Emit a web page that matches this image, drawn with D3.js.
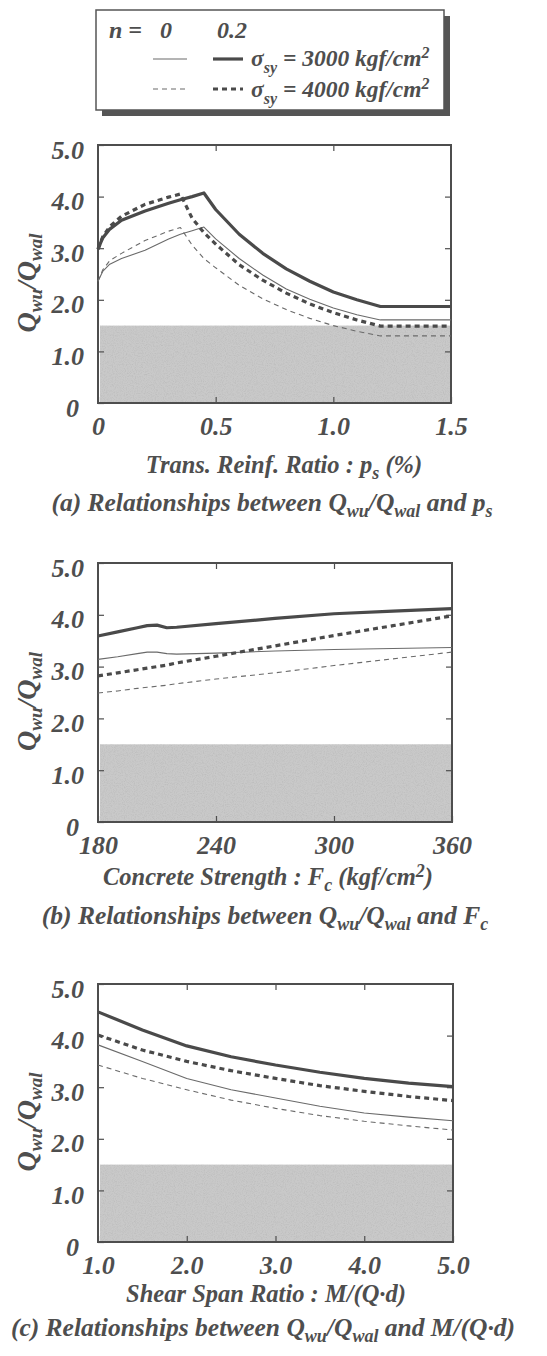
<!DOCTYPE html>
<html>
<head>
<meta charset="utf-8">
<script src="https://d3js.org/d3.v7.min.js"></script>
<style>
  body { margin: 0; background: #fff; }
  text { font-family: "Liberation Serif", "Times New Roman", serif; font-weight: bold; font-style: italic; fill: #4e4e4e; }
</style>
</head>
<body>
<svg width="547" height="1356">
  <defs>
    <filter id="grain" x="0" y="0" width="1" height="1">
      <feTurbulence type="fractalNoise" baseFrequency="0.9" numOctaves="2" seed="4" result="noise"/>
      <feColorMatrix in="noise" type="matrix" values="0 0 0 0 0.4  0 0 0 0 0.4  0 0 0 0 0.4  0.9 0 0 0 -0.38" result="dots"/>
      <feComposite in="dots" in2="SourceGraphic" operator="in" result="clipped"/>
      <feMerge><feMergeNode in="SourceGraphic"/><feMergeNode in="clipped"/></feMerge>
    </filter>
  </defs>
</svg>
<script>

// ---- data ----
// legend: n = 0 (thin), n = 0.2 (thick); solid = 3000, dashed = 4000 kgf/cm2
var nValues = ["0", "0.2"];
var sigmaLabels = ["3000", "4000"];
var safeLimit = 1.5;   // shaded zone Qwu/Qwal < 1.5

// (a) transverse reinforcement ratio ps (%)
var psX = [0, 0.02, 0.05, 0.1, 0.2, 0.3, 0.35, 0.4, 0.45, 0.5, 0.6, 0.7, 0.8, 0.9, 1.0, 1.1, 1.2, 1.5];
var psN02S3000 = [2.98, 3.2, 3.37, 3.54, 3.72, 3.87, 3.94, 4.0, 4.07, 3.75, 3.27, 2.9, 2.6, 2.36, 2.15, 2.0, 1.87, 1.87];
var psN02S4000 = [2.98, 3.22, 3.42, 3.62, 3.85, 3.99, 4.05, 3.58, 3.3, 3.08, 2.68, 2.38, 2.13, 1.92, 1.75, 1.61, 1.49, 1.49];
var psN0S3000  = [2.36, 2.55, 2.69, 2.8, 2.96, 3.18, 3.27, 3.34, 3.41, 3.18, 2.8, 2.48, 2.21, 2.01, 1.84, 1.71, 1.61, 1.61];
var psN0S4000  = [2.36, 2.58, 2.76, 2.9, 3.15, 3.33, 3.4, 3.06, 2.8, 2.62, 2.28, 2.02, 1.81, 1.64, 1.5, 1.39, 1.3, 1.3];
var psTicks = [0, 0.5, 1.0, 1.5];
var psTickLabels = ["0", "0.5", "1.0", "1.5"];

// (b) concrete strength Fc (kgf/cm2)
var fcX = [180, 190, 200, 205, 210, 215, 220, 240, 270, 300, 330, 360];
var fcN02S3000 = [3.59, 3.67, 3.75, 3.79, 3.8, 3.75, 3.76, 3.83, 3.93, 4.02, 4.07, 4.12];
var fcN02S4000 = [2.82, 2.88, 2.94, 2.97, 3.0, 3.03, 3.07, 3.2, 3.4, 3.6, 3.79, 3.98];
var fcN0S3000  = [3.14, 3.19, 3.25, 3.28, 3.28, 3.25, 3.24, 3.26, 3.3, 3.33, 3.35, 3.37];
var fcN0S4000  = [2.49, 2.53, 2.58, 2.6, 2.62, 2.64, 2.67, 2.76, 2.88, 3.02, 3.15, 3.28];
var fcTicks = [180, 240, 300, 360];
var fcTickLabels = ["180", "240", "300", "360"];

// (c) shear span ratio M/(Q·d)
var mqdX = [1.0, 1.5, 2.0, 2.5, 3.0, 3.5, 4.0, 4.5, 5.0];
var mqdN02S3000 = [4.46, 4.11, 3.8, 3.59, 3.43, 3.29, 3.17, 3.08, 3.01];
var mqdN02S4000 = [4.01, 3.72, 3.5, 3.32, 3.17, 3.03, 2.92, 2.82, 2.74];
var mqdN0S3000  = [3.82, 3.5, 3.17, 2.95, 2.79, 2.63, 2.5, 2.42, 2.35];
var mqdN0S4000  = [3.43, 3.17, 2.95, 2.75, 2.59, 2.45, 2.34, 2.25, 2.17];
var mqdTicks = [1, 2, 3, 4, 5];
var mqdTickLabels = ["1.0", "2.0", "3.0", "4.0", "5.0"];

var yTicks = [0, 1, 2, 3, 4, 5];
var yTickLabels = ["0", "1.0", "2.0", "3.0", "4.0", "5.0"];

// ---- styles ----
var ink = "#4e4e4e";
var styles = {
    thickSolid:  {width: 3.2, dash: null,  color: "#4a4a4a"},
    thickDashed: {width: 3.2, dash: "5,4", color: "#4a4a4a"},
    thinSolid:   {width: 1.1, dash: null,  color: "#6a6a6a"},
    thinDashed:  {width: 1.1, dash: "5,4", color: "#6a6a6a"}
};

var svg = d3.select("svg");

// ---- legend ----
var lg = svg.append("g");
lg.append("rect").attr("x", 102).attr("y", 16).attr("width", 348).attr("height", 100).attr("fill", "#555");
lg.append("rect").attr("x", 96).attr("y", 10).attr("width", 348).attr("height", 100)
    .attr("fill", "#fff").attr("stroke", "#555").attr("stroke-width", 1.5);
lg.append("text").attr("x", 109).attr("y", 38).style("font-size", "24px").text("n =");
lg.append("text").attr("x", 166).attr("y", 38).attr("text-anchor", "middle").style("font-size", "24px").text(nValues[0]);
lg.append("text").attr("x", 232).attr("y", 38).attr("text-anchor", "middle").style("font-size", "24px").text(nValues[1]);

function legendLine(x1, x2, y, st) {
    lg.append("line").attr("x1", x1).attr("x2", x2).attr("y1", y).attr("y2", y)
        .attr("stroke", st.color).attr("stroke-width", st.width)
        .attr("stroke-dasharray", st.dash);
}
legendLine(153, 187, 59, styles.thinSolid);
legendLine(213, 243, 59, styles.thickSolid);
legendLine(153, 187, 89, styles.thinDashed);
legendLine(213, 243, 89, styles.thickDashed);

function sigmaText(y, value) {
    var t = lg.append("text").attr("x", 251).attr("y", y).style("font-size", "23.5px");
    t.append("tspan").text("σ");
    t.append("tspan").attr("dy", 7).style("font-size", "16px").text("sy");
    t.append("tspan").attr("dy", -7).text(" = " + value + " kgf/cm");
    t.append("tspan").attr("dy", -8).style("font-size", "16px").text("2");
}
sigmaText(66, sigmaLabels[0]);
sigmaText(97, sigmaLabels[1]);

// ---- panels ----
function yTitle(g, cx, cy) {
    var t = g.append("text").attr("transform", "translate(" + cx + "," + cy + ") rotate(-90)")
        .attr("text-anchor", "middle").style("font-size", "28px");
    t.append("tspan").text("Q");
    t.append("tspan").attr("dy", 6).style("font-size", "19px").text("wu");
    t.append("tspan").attr("dy", -6).text("/Q");
    t.append("tspan").attr("dy", 6).style("font-size", "19px").text("wal");
}

// parts: array of [text, "sub"|"sup"|null]
function richText(g, x, y, size, parts) {
    var t = g.append("text").attr("x", x).attr("y", y).attr("text-anchor", "middle").style("font-size", size + "px");
    var shift = 0;
    parts.forEach(function(p) {
        var target = p[1] === "sub" ? 6 : p[1] === "sup" ? -8 : 0;
        var s = t.append("tspan").attr("dy", target - shift).text(p[0]);
        if (p[1]) s.style("font-size", Math.round(size * 0.72) + "px");
        shift = target;
    });
    return t;
}

function drawPanel(p) {
    var g = svg.append("g");
    var x = d3.scaleLinear().domain(p.xDomain).range([p.left, p.right]);
    var y = d3.scaleLinear().domain([0, 5]).range([p.bottom, p.top]);

    // shaded unsafe zone
    g.append("rect")
        .attr("x", x(p.xDomain[0]) + 2).attr("width", x(p.xDomain[1]) - x(p.xDomain[0]) - 3)
        .attr("y", y(safeLimit)).attr("height", y(0) - y(safeLimit))
        .attr("fill", "#c9c9c9").attr("filter", "url(#grain)");

    // inward ticks on all four sides
    var inner = p.xTicks.slice(1, -1);
    g.append("g").attr("transform", "translate(0," + p.bottom + ")")
        .call(d3.axisBottom(x).tickValues(p.xTicks).tickSizeInner(-6).tickSizeOuter(0).tickPadding(14)
            .tickFormat(function(d, i) { return p.xTickLabels[i]; }))
        .call(function(a) {
            a.select(".domain").remove();
            a.selectAll("line").attr("stroke", ink).attr("stroke-width", 1.2);
            a.selectAll("text").attr("fill", ink).style("font-size", "26px").style("font-family", null);
        });
    g.append("g").attr("transform", "translate(0," + p.top + ")")
        .call(d3.axisTop(x).tickValues(inner).tickSizeInner(-6).tickSizeOuter(0).tickFormat(""))
        .call(function(a) { a.select(".domain").remove(); a.selectAll("line").attr("stroke", ink).attr("stroke-width", 1.2); });
    g.append("g").attr("transform", "translate(" + p.left + ",0)")
        .call(d3.axisLeft(y).tickValues(yTicks).tickSizeInner(-6).tickSizeOuter(0).tickPadding(14)
            .tickFormat(function(d, i) { return yTickLabels[i]; }))
        .call(function(a) {
            a.select(".domain").remove();
            a.selectAll("line").attr("stroke", ink).attr("stroke-width", 1.2);
            a.selectAll("text").attr("fill", ink).attr("dy", "0.5em").style("font-size", "26px").style("font-family", null);
            // the "0" sits a little left so it clears the first x label
            a.selectAll(".tick").filter(function(d) { return d === 0; }).select("text").attr("x", -19);
        });
    g.append("g").attr("transform", "translate(" + p.right + ",0)")
        .call(d3.axisRight(y).tickValues(yTicks.slice(1, -1)).tickSizeInner(-6).tickSizeOuter(0).tickFormat(""))
        .call(function(a) { a.select(".domain").remove(); a.selectAll("line").attr("stroke", ink).attr("stroke-width", 1.2); });

    // frame
    g.append("rect").attr("x", p.left).attr("y", p.top)
        .attr("width", p.right - p.left).attr("height", p.bottom - p.top)
        .attr("fill", "none").attr("stroke", ink).attr("stroke-width", 2);

    // curves
    var line = d3.line().x(function(d) { return x(d[0]); }).y(function(d) { return y(d[1]); });
    p.series.forEach(function(s) {
        var pts = p.xs.map(function(v, i) { return [v, s.values[i]]; });
        g.append("path").datum(pts).attr("d", line)
            .attr("fill", "none").attr("stroke", s.style.color)
            .attr("stroke-width", s.style.width).attr("stroke-dasharray", s.style.dash)
            .attr("stroke-linejoin", "round");
    });

    yTitle(g, 36, (p.top + p.bottom) / 2 + 9);
    richText(g, p.titleX, p.titleY, 24.5, p.title);
    richText(g, p.capX, p.capY, 25.5, p.caption);
}

drawPanel({
    left: 98, right: 451, top: 145, bottom: 403,
    xDomain: [0, 1.5], xTicks: psTicks, xTickLabels: psTickLabels, xs: psX,
    series: [
        {values: psN0S3000, style: styles.thinSolid},
        {values: psN0S4000, style: styles.thinDashed},
        {values: psN02S4000, style: styles.thickDashed},
        {values: psN02S3000, style: styles.thickSolid}
    ],
    titleX: 284, titleY: 473,
    title: [["Trans. Reinf. Ratio : p", null], ["s", "sub"], [" (%)", null]],
    capX: 272, capY: 511,
    caption: [["(a)  Relationships between Q", null], ["wu", "sub"], ["/Q", null], ["wal", "sub"], [" and p", null], ["s", "sub"]]
});

drawPanel({
    left: 98, right: 452, top: 563, bottom: 822,
    xDomain: [180, 360], xTicks: fcTicks, xTickLabels: fcTickLabels, xs: fcX,
    series: [
        {values: fcN0S3000, style: styles.thinSolid},
        {values: fcN0S4000, style: styles.thinDashed},
        {values: fcN02S4000, style: styles.thickDashed},
        {values: fcN02S3000, style: styles.thickSolid}
    ],
    titleX: 268, titleY: 885,
    title: [["Concrete Strength : F", null], ["c", "sub"], [" (kgf/cm", null], ["2", "sup"], [")", null]],
    capX: 265, capY: 924,
    caption: [["(b)  Relationships between Q", null], ["wu", "sub"], ["/Q", null], ["wal", "sub"], [" and F", null], ["c", "sub"]]
});

drawPanel({
    left: 98, right: 453, top: 984, bottom: 1242,
    xDomain: [1, 5], xTicks: mqdTicks, xTickLabels: mqdTickLabels, xs: mqdX,
    series: [
        {values: mqdN0S3000, style: styles.thinSolid},
        {values: mqdN0S4000, style: styles.thinDashed},
        {values: mqdN02S4000, style: styles.thickDashed},
        {values: mqdN02S3000, style: styles.thickSolid}
    ],
    titleX: 266, titleY: 1302,
    title: [["Shear Span Ratio : M/(Q·d)", null]],
    capX: 263, capY: 1336,
    caption: [["(c)  Relationships between Q", null], ["wu", "sub"], ["/Q", null], ["wal", "sub"], [" and M/(Q·d)", null]]
});

</script>
</body>
</html>
